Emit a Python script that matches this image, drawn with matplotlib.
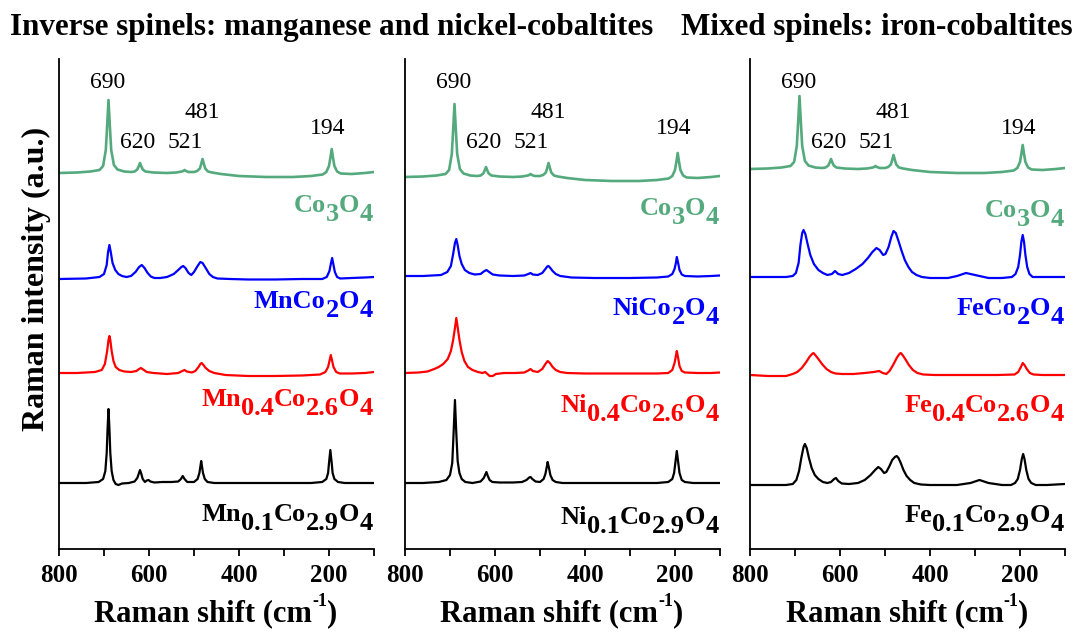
import matplotlib
matplotlib.use("Agg")
import matplotlib.pyplot as plt
import matplotlib.transforms as mtransforms

plt.rcParams['font.family'] = 'Liberation Serif'

# spectra as (Raman shift, intensity above own baseline)
co3o4 = [(800, 0), (760, 0.5), (730, 1.5), (710, 3), (702, 7), (696, 23), (693, 47), (690, 73), (687, 47),
         (684, 23), (678, 8), (670, 3.5), (655, 1.5), (640, 1), (632, 1.5), (626, 3.5), (623, 6.5), (620, 10),
         (617, 6.5), (614, 3.5), (608, 1.5), (590, 0.5), (560, 0), (540, 0.5), (527, 1.5), (524, 2), (521, 3),
         (518, 2), (512, 1), (500, 1), (493, 2), (487, 4.5), (484, 9), (481, 14), (478, 9), (475, 4.5),
         (469, 1.5), (460, 0.5), (440, -1), (400, -3), (340, -4), (280, -4), (240, -3), (214, -1.5), (206, 1),
         (200, 7), (197, 15), (194, 24), (191, 15), (188, 7), (182, 1.5), (174, -0.5), (150, -1), (120, 0),
         (100, 1)]

mnco2o4 = [(800, 0), (740, 0.5), (710, 2), (700, 5), (694, 14), (691, 27), (688, 34), (685, 27), (681, 16),
           (675, 9), (668, 5), (660, 3), (650, 2), (640, 3), (630, 7), (622, 12), (616, 14), (610, 11), (603, 6),
           (596, 2.5), (588, 1), (575, 1), (560, 2), (545, 5), (535, 9), (528, 12), (524, 13), (519, 11),
           (512, 6), (506, 4), (500, 7), (492, 13), (486, 17), (481, 16), (474, 11), (466, 5), (458, 2),
           (448, 0.5), (420, 0), (380, -0.5), (320, -0.5), (260, 0), (215, 0), (205, 2), (199, 8), (196, 15),
           (193, 21), (190, 14), (187, 7), (182, 2), (175, 0.5), (150, 1), (120, 1.5), (100, 2)]

mn04 = [(800, 0), (760, 0), (720, 1), (705, 3), (698, 9), (693, 22), (690, 33), (688, 37), (686, 33), (683, 22),
        (679, 12), (674, 6), (666, 3), (655, 1.5), (640, 1), (628, 2), (622, 4), (618, 5), (613, 3.5), (605, 1),
        (590, 0), (560, -1), (535, 0), (526, 2), (521, 3), (516, 1.5), (505, 0.5), (497, 2), (490, 6), (486, 9),
        (483, 10), (479, 8), (474, 5), (466, 2), (455, 0), (430, -2), (380, -3), (320, -3), (260, -2.5),
        (220, -1.5), (208, 1), (202, 6), (199, 12), (196, 18), (193, 12), (190, 6), (184, 1), (176, -0.5),
        (150, -0.5), (120, 0), (100, 1)]

mn01 = [(800, 0), (740, 0), (712, 1), (702, 4), (697, 12), (694, 30), (692, 55), (690, 74), (688, 55), (686, 30),
        (683, 12), (679, 3), (674, -1), (668, -2), (660, -0.5), (645, 0), (632, 1.5), (626, 5), (623, 9),
        (620, 13), (617, 9), (614, 4), (609, 1), (605, 2.5), (601, 3), (597, 1.5), (588, 0.5), (570, 1),
        (550, 1), (535, 1.5), (529, 4), (525, 7), (521, 4), (515, 1), (500, 1), (492, 4), (488, 10), (486, 16),
        (484, 22), (482, 16), (480, 10), (476, 4), (470, 1), (455, 0), (400, 0), (300, 0), (240, 0), (215, 1),
        (206, 4), (202, 10), (200, 20), (197, 33), (194, 20), (192, 10), (188, 4), (180, 1), (165, 0), (130, 0),
        (100, 0)]

nico2o4 = [(800, 0), (760, 0), (720, 1), (706, 4), (698, 10), (693, 22), (689, 33), (686, 37), (683, 31),
           (679, 20), (674, 12), (667, 6), (657, 3), (645, 1.5), (632, 2), (625, 4.5), (619, 6), (613, 4),
           (605, 1.5), (590, 0.5), (560, 0), (535, 0.5), (526, 2), (521, 3), (516, 1.5), (505, 1), (495, 3),
           (488, 7), (484, 9.5), (481, 10), (477, 8), (472, 5), (465, 2), (455, 0), (430, -1.5), (380, -2),
           (300, -2), (240, -1.5), (215, -0.5), (206, 2), (201, 7), (198, 13), (196, 19), (193, 13), (190, 6),
           (185, 1.5), (178, 0), (150, -0.5), (120, 0), (100, 0.5)]

ni04 = [(800, 0), (770, 0.5), (750, 1.5), (735, 4), (725, 6), (715, 9), (705, 14), (698, 22), (693, 33), (689, 45),
        (686, 55), (683, 46), (679, 33), (674, 21), (668, 12), (660, 6), (650, 3), (638, 1), (628, 0), (622, 1),
        (618, -0.5), (612, -3), (605, -3), (598, -1), (580, 0), (555, 0), (535, 0.5), (526, 2.5), (521, 4),
        (516, 2), (505, 1), (495, 4), (488, 9), (483, 12), (478, 10), (472, 6), (465, 3), (455, 1), (440, 0),
        (400, -0.5), (320, -0.5), (240, -0.5), (215, 0), (206, 3), (201, 10), (198, 17), (196, 22), (193, 15),
        (190, 7), (185, 2), (178, 0.5), (150, 0), (120, 0), (100, 0.5)]

ni01 = [(800, 0), (760, 0), (725, 1), (708, 3), (700, 8), (695, 20), (692, 50), (689, 83), (686, 50), (683, 22),
        (679, 10), (674, 4), (666, 1), (650, 0), (632, 1.5), (625, 5), (622, 8), (619, 11), (616, 7), (612, 3),
        (606, 1), (590, 0.5), (560, 0.5), (540, 1), (530, 3), (524, 5.5), (521, 6), (517, 4), (510, 1.5),
        (500, 1), (492, 4), (488, 9), (485, 16), (483, 21), (480, 15), (477, 8), (472, 3), (465, 1), (450, 0),
        (400, 0), (300, 0), (240, 0), (215, 1), (206, 4), (202, 10), (199, 21), (196, 32), (193, 21), (190, 10),
        (185, 3), (178, 1), (160, 0), (130, 0), (100, 0)]

feco2o4 = [(800, 0), (760, 0), (720, 0), (705, 1), (698, 4), (692, 14), (688, 32), (684, 44), (681, 47), (677, 43),
           (672, 33), (666, 22), (658, 13), (648, 7), (638, 4), (628, 2), (618, 3), (611, 6), (604, 3), (595, 2),
           (580, 4), (565, 8), (550, 13), (538, 19), (528, 25), (519, 29), (512, 27), (504, 22), (499, 23),
           (492, 30), (486, 40), (481, 46), (476, 44), (470, 36), (463, 26), (456, 17), (448, 10), (440, 5),
           (430, 2), (418, 0), (400, -1), (360, -1), (340, 1), (320, 4), (300, 2), (270, -1), (240, -1), (218, 0),
           (210, 3), (204, 10), (200, 22), (197, 35), (194, 42), (191, 35), (188, 22), (184, 10), (179, 3),
           (172, 0), (150, 0), (120, 0), (100, 0)]

fe04 = [(800, 0), (760, -1), (720, -1), (705, 1), (695, 3), (685, 7), (675, 13), (668, 18), (662, 21), (659, 22),
        (655, 20), (648, 16), (640, 11), (630, 6), (620, 3), (610, 1.5), (595, 1), (570, 1), (545, 2), (525, 3),
        (513, 4), (505, 2), (497, 1), (490, 4), (482, 10), (474, 17), (468, 21), (465, 22), (461, 20), (455, 16),
        (447, 10), (438, 5), (428, 2), (415, 0.5), (390, 0), (320, 0), (250, 0), (212, 0.5), (204, 3), (198, 8),
        (194, 12), (190, 10), (185, 6), (178, 2), (170, 0.5), (150, 0), (120, 0), (100, 0)]

fe01 = [(800, 0), (760, 0), (720, 0), (705, 1), (697, 5), (691, 14), (686, 27), (681, 38), (678, 41), (674, 37),
        (669, 27), (663, 17), (656, 10), (648, 6), (638, 3), (628, 2), (620, 3), (613, 6), (609, 7), (604, 4),
        (596, 1.5), (580, 1), (560, 2), (545, 5), (532, 10), (522, 15), (515, 18), (509, 16), (502, 12),
        (497, 13), (490, 19), (484, 25), (478, 28), (474, 29), (470, 27), (465, 22), (459, 15), (452, 9),
        (444, 5), (435, 2), (420, 0.5), (400, 0), (340, 0), (310, 2), (290, 5), (270, 2), (240, 0), (220, 0),
        (211, 2), (205, 6), (200, 15), (196, 26), (193, 31), (190, 26), (186, 15), (181, 6), (175, 2), (165, 0),
        (140, 0), (100, 1)]

panel1_data = [co3o4, mnco2o4, mn04, mn01]
panel2_data = [co3o4, nico2o4, ni04, ni01]
panel3_data = [co3o4, feco2o4, fe04, fe01]

# sample names as (text, is_subscript) pieces
panel1_names = [[('Co', 0), ('3', 1), ('O', 0), ('4', 1)],
                [('MnCo', 0), ('2', 1), ('O', 0), ('4', 1)],
                [('Mn', 0), ('0.4', 1), ('Co', 0), ('2.6', 1), ('O', 0), ('4', 1)],
                [('Mn', 0), ('0.1', 1), ('Co', 0), ('2.9', 1), ('O', 0), ('4', 1)]]
panel2_names = [[('Co', 0), ('3', 1), ('O', 0), ('4', 1)],
                [('NiCo', 0), ('2', 1), ('O', 0), ('4', 1)],
                [('Ni', 0), ('0.4', 1), ('Co', 0), ('2.6', 1), ('O', 0), ('4', 1)],
                [('Ni', 0), ('0.1', 1), ('Co', 0), ('2.9', 1), ('O', 0), ('4', 1)]]
panel3_names = [[('Co', 0), ('3', 1), ('O', 0), ('4', 1)],
                [('FeCo', 0), ('2', 1), ('O', 0), ('4', 1)],
                [('Fe', 0), ('0.4', 1), ('Co', 0), ('2.6', 1), ('O', 0), ('4', 1)],
                [('Fe', 0), ('0.1', 1), ('Co', 0), ('2.9', 1), ('O', 0), ('4', 1)]]

peak_labels = ['690', '620', '521', '481', '194']

colors = ['#55AA7D', '#0000FF', '#FF0000', '#000000']

# vertical stacking offsets and label baselines (same units as the y axis)
panel_offsets = [[376, 270, 176, 66], [372, 273, 176, 66], [380, 272, 174, 64]]
label_y = [[337, 241, 143, 28], [334, 234, 137, 25], [332, 234, 137, 27]]
peak_label_pos = [(692, 466), (625, 406), (519, 406), (482, 436), (204, 420)]

fig = plt.figure(figsize=(10.76, 6.35), dpi=100)
renderer = fig.canvas.get_renderer()


def put_pieces(host, base_tr, x, y, pieces, color, ha):
    # lay out text pieces side by side, shifting subscripts/superscripts in pixels
    widths = []
    for s, sz, dy in pieces:
        t = fig.text(0, 0, s, fontsize=sz, fontweight='bold')
        widths.append(t.get_window_extent(renderer).width)
        t.remove()
    total = sum(widths)
    cur = -total if ha == 'right' else -total / 2
    for (s, sz, dy), w in zip(pieces, widths):
        tr = mtransforms.offset_copy(base_tr, fig=fig, x=cur, y=dy, units='dots')
        host.text(x, y, s, transform=tr, ha='left', va='baseline', fontsize=sz,
                  fontweight='bold', color=color)
        cur += w


lefts = [59 / 1076, 405 / 1076, 750 / 1076]
all_data = [panel1_data, panel2_data, panel3_data]
all_names = [panel1_names, panel2_names, panel3_names]

for i in range(3):
    ax = fig.add_axes([lefts[i], 86 / 635, 315 / 1076, 490 / 635])
    tr = mtransforms.blended_transform_factory(ax.transAxes, ax.transData)
    for j, spec in enumerate(all_data[i]):
        xs = [p[0] for p in spec]
        ys = [panel_offsets[i][j] + p[1] for p in spec]
        ax.plot(xs, ys, color=colors[j], lw=1.9 if j == 0 else 1.6)
        pieces = [(s, 19, -9 if sub else 0) for s, sub in all_names[i][j]]
        put_pieces(ax, tr, 0.995, label_y[i][j], pieces, colors[j], 'right')
    for lab, (px, py) in zip(peak_labels, peak_label_pos):
        ax.text(px, py, lab, ha='center', va='center', fontsize=17)
    ax.set_xlim(800, 100)
    ax.set_ylim(0, 490)
    ax.set_xticks([800, 600, 400, 200])
    ax.set_xticks([700, 500, 300, 100], minor=True)
    ax.set_yticks([])
    ax.tick_params(axis='x', which='both', direction='out', length=5, width=1.3, labelsize=18, pad=6)
    for t in ax.get_xticklabels():
        t.set_fontweight('bold')
    for s in ['top', 'right']:
        ax.spines[s].set_visible(False)
    for s in ['left', 'bottom']:
        ax.spines[s].set_linewidth(1.3)
    # x axis title with a raised "-1"
    put_pieces(fig, fig.transFigure, (lefts[i] * 1076 + 157) / 1076, 1 - 621 / 635,
               [('Raman shift (cm', 22, 0), ('-1', 13, 15), (')', 22, 0)], 'black', 'center')

fig.text(36 / 1076, 1 - 279 / 635, 'Raman intensity (a.u.)', rotation=90, ha='center', va='center',
         fontsize=23, fontweight='bold')
fig.text(332 / 1076, 1 - 27 / 635, 'Inverse spinels: manganese and nickel-cobaltites', ha='center', va='center',
         fontsize=22.4, fontweight='bold')
fig.text(877 / 1076, 1 - 27 / 635, 'Mixed spinels: iron-cobaltites', ha='center', va='center',
         fontsize=22.4, fontweight='bold')

fig.savefig('out.png', dpi=100)
